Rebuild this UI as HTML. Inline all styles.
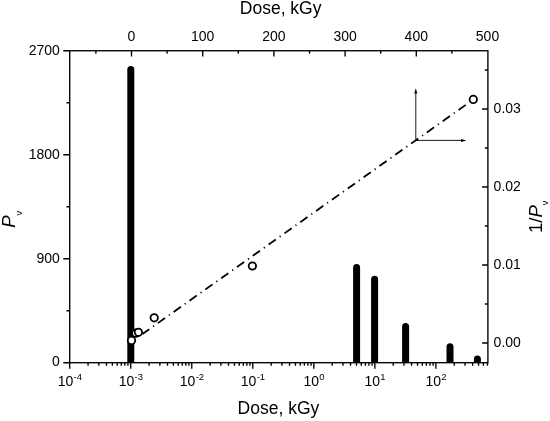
<!DOCTYPE html>
<html><head><meta charset="utf-8"><title>Dose chart</title>
<style>
html,body{margin:0;padding:0;background:#fff;}
body{width:550px;height:421px;overflow:hidden;}
svg{display:block;}
text{font-family:"Liberation Sans", Arial, sans-serif;fill:#000;}
.t{font-size:14px;}
.s{font-size:9.5px;}
.nu{font-size:9px;}
.ttl{font-size:17.5px;}
.ax{stroke:#000;stroke-width:1.35;fill:none;}
</style></head><body>
<svg width="550" height="421" viewBox="0 0 550 421">
<rect width="550" height="421" fill="#fff"/>

<path d="M127.30 362.7 V69.40 A3.5 3.5 0 0 1 134.30 69.40 V362.7 Z" fill="#000"/>
<path d="M353.10 362.7 V267.40 A3.5 3.5 0 0 1 360.10 267.40 V362.7 Z" fill="#000"/>
<path d="M371.10 362.7 V279.30 A3.5 3.5 0 0 1 378.10 279.30 V362.7 Z" fill="#000"/>
<path d="M402.10 362.7 V326.50 A3.5 3.5 0 0 1 409.10 326.50 V362.7 Z" fill="#000"/>
<path d="M446.50 362.7 V346.70 A3.5 3.5 0 0 1 453.50 346.70 V362.7 Z" fill="#000"/>
<path d="M473.90 362.7 V359.00 A3.5 3.5 0 0 1 480.90 359.00 V362.7 Z" fill="#000"/>
<line x1="466" y1="104.7" x2="142.5" y2="334.0" stroke="#000" stroke-width="1.8" stroke-dasharray="8.8 4.7 1.2 4.7" stroke-dashoffset="-0.3"/>
<g stroke="#000" stroke-width="0.9" fill="none"><line x1="415.8" y1="140.4" x2="415.8" y2="92"/><line x1="415.8" y1="140.4" x2="462" y2="140.4"/></g>
<path d="M415.8 88.2 L417.3 93.6 H414.3 Z" fill="#000"/>
<path d="M466.4 140.4 L461 141.9 V138.9 Z" fill="#000"/>
<circle cx="131.5" cy="340.4" r="3.7" fill="#fff" stroke="#000" stroke-width="1.8"/>
<circle cx="135.8" cy="333.2" r="3.7" fill="#fff" stroke="#000" stroke-width="1.8"/>
<circle cx="138.4" cy="332.3" r="3.7" fill="#fff" stroke="#000" stroke-width="1.8"/>
<circle cx="154.2" cy="317.8" r="3.7" fill="#fff" stroke="#000" stroke-width="1.8"/>
<circle cx="252.4" cy="266" r="3.7" fill="#fff" stroke="#000" stroke-width="1.8"/>
<circle cx="473.3" cy="99.4" r="3.7" fill="#fff" stroke="#000" stroke-width="1.8"/>
<rect class="ax" x="69.7" y="50.75" width="418.2" height="311.95"/>
<path class="ax" d="M69.7 362.70 h-6.4 M69.7 310.71 h-3.2 M69.7 258.72 h-6.4 M69.7 206.72 h-3.2 M69.7 154.73 h-6.4 M69.7 102.74 h-3.2 M69.7 50.75 h-6.4 M487.9 343.00 h-5.8 M487.9 304.00 h-3.0 M487.9 265.00 h-5.8 M487.9 226.00 h-3.0 M487.9 187.00 h-5.8 M487.9 148.00 h-3.0 M487.9 109.00 h-5.8 M487.9 70.00 h-3.0 M95.90 50.75 v3.0 M131.50 50.75 v5.8 M167.10 50.75 v3.0 M202.70 50.75 v5.8 M238.30 50.75 v3.0 M273.90 50.75 v5.8 M309.50 50.75 v3.0 M345.10 50.75 v5.8 M380.70 50.75 v3.0 M416.30 50.75 v5.8 M451.90 50.75 v3.0 M69.70 362.7 v6 M88.07 362.7 v3 M98.82 362.7 v3 M106.44 362.7 v3 M112.36 362.7 v3 M117.19 362.7 v3 M121.28 362.7 v3 M124.82 362.7 v3 M127.94 362.7 v3 M130.73 362.7 v6 M149.10 362.7 v3 M159.85 362.7 v3 M167.47 362.7 v3 M173.39 362.7 v3 M178.22 362.7 v3 M182.31 362.7 v3 M185.85 362.7 v3 M188.97 362.7 v3 M191.76 362.7 v6 M210.13 362.7 v3 M220.88 362.7 v3 M228.50 362.7 v3 M234.42 362.7 v3 M239.25 362.7 v3 M243.34 362.7 v3 M246.88 362.7 v3 M250.00 362.7 v3 M252.79 362.7 v6 M271.16 362.7 v3 M281.91 362.7 v3 M289.53 362.7 v3 M295.45 362.7 v3 M300.28 362.7 v3 M304.37 362.7 v3 M307.91 362.7 v3 M311.03 362.7 v3 M313.82 362.7 v6 M332.19 362.7 v3 M342.94 362.7 v3 M350.56 362.7 v3 M356.48 362.7 v3 M361.31 362.7 v3 M365.40 362.7 v3 M368.94 362.7 v3 M372.06 362.7 v3 M374.85 362.7 v6 M393.22 362.7 v3 M403.97 362.7 v3 M411.59 362.7 v3 M417.51 362.7 v3 M422.34 362.7 v3 M426.43 362.7 v3 M429.97 362.7 v3 M433.09 362.7 v3 M435.88 362.7 v6 M454.25 362.7 v3 M465.00 362.7 v3 M472.62 362.7 v3 M478.54 362.7 v3 M483.37 362.7 v3 M487.46 362.7 v3"/>
<text class="t" x="59.8" y="365.90" text-anchor="end">0</text>
<text class="t" x="59.8" y="262.62" text-anchor="end">900</text>
<text class="t" x="59.8" y="158.53" text-anchor="end">1800</text>
<text class="t" x="59.8" y="54.95" text-anchor="end">2700</text>
<text class="t" x="493.6" y="346.90">0.00</text>
<text class="t" x="493.6" y="268.90">0.01</text>
<text class="t" x="493.6" y="190.90">0.02</text>
<text class="t" x="493.6" y="112.90">0.03</text>
<text class="t" x="131.50" y="40.8" text-anchor="middle">0</text>
<text class="t" x="202.70" y="40.8" text-anchor="middle">100</text>
<text class="t" x="273.90" y="40.8" text-anchor="middle">200</text>
<text class="t" x="345.10" y="40.8" text-anchor="middle">300</text>
<text class="t" x="416.30" y="40.8" text-anchor="middle">400</text>
<text class="t" x="487.50" y="40.8" text-anchor="middle">500</text>
<text class="t" x="57.69" y="385.9">10</text><text class="s" x="73.59" y="379.9">-4</text>
<text class="t" x="118.72" y="385.9">10</text><text class="s" x="134.62" y="379.9">-3</text>
<text class="t" x="179.75" y="385.9">10</text><text class="s" x="195.65" y="379.9">-2</text>
<text class="t" x="240.78" y="385.9">10</text><text class="s" x="256.68" y="379.9">-1</text>
<text class="t" x="303.39" y="385.9">10</text><text class="s" x="319.29" y="379.9">0</text>
<text class="t" x="364.42" y="385.9">10</text><text class="s" x="380.32" y="379.9">1</text>
<text class="t" x="425.45" y="385.9">10</text><text class="s" x="441.35" y="379.9">2</text>
<text class="ttl" x="239.8" y="14.0">Dose, kGy</text>
<text class="ttl" x="237.6" y="413.6">Dose, kGy</text>
<text class="ttl" transform="translate(14.8,227.85) rotate(-90) scale(1.06,1)" font-style="italic">P</text>
<text class="nu" transform="translate(21.9,215.6) rotate(-90)">ν</text>
<text class="ttl" transform="translate(542.4,233.0) rotate(-90) scale(1.06,1)">1/<tspan font-style="italic">P</tspan></text>
<text class="nu" transform="translate(548.1,205.2) rotate(-90)">ν</text>
</svg></body></html>
